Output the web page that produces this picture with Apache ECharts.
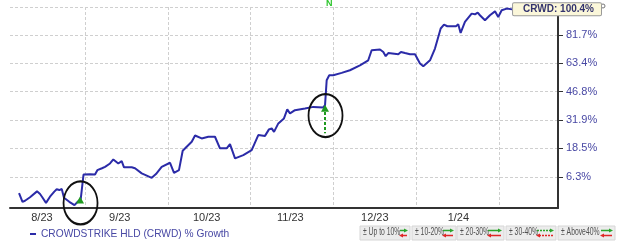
<!DOCTYPE html>
<html>
<head>
<meta charset="utf-8">
<script src="https://cdn.jsdelivr.net/npm/echarts@6/dist/echarts.min.js"></script>
<style>
html,body{margin:0;padding:0;background:#fff;}
#chart{width:620px;height:242px;}
</style>
</head>
<body>
<div id="chart"></div>
<script>
// months elapsed since 2023-08-01 (each calendar month = 1 unit, as on the reference axis)
const monthPos = [0.203,0.245,0.275,0.336,0.420,0.457,0.484,0.529,0.577,0.629,0.658,0.690,0.719,0.746,0.810,0.873,0.912,0.948,0.982,
  1.060,1.121,1.149,1.205,1.242,1.302,1.342,1.402,1.443,1.471,1.564,1.604,1.685,1.806,1.857,1.926,
  2.027,2.075,2.135,2.180,2.289,2.329,2.409,2.489,2.570,2.630,2.711,2.751,2.812,2.912,
  3.013,3.093,3.174,3.222,3.255,3.283,3.335,3.403,3.443,3.476,3.536,3.657,3.757,3.878,3.899,3.919,3.950,3.999,
  4.100,4.200,4.321,4.421,4.462,4.563,4.603,4.632,4.663,4.684,4.784,4.816,4.865,4.925,4.986,
  5.046,5.086,5.167,5.227,5.296,5.336,5.376,5.481,5.508,5.537,5.589,5.670,5.710,5.743,5.770,5.831,5.891,5.952,5.991,
  6.033,6.094,6.158];
// % growth of CRWD
const growth = [0.0,-3.2,-2.8,-1.5,0.7,-0.3,-1.5,-3.6,-1.3,0.6,1.5,1.2,1.6,-1.7,-3.2,-4.4,-3.2,-2.3,7.3,
  7.4,7.3,9.1,9.9,10.5,11.9,13.6,11.9,12.9,10.3,10.3,9.9,7.8,6.0,7.5,10.5,
  12.2,8.0,9.1,17.4,21.5,24.4,23.0,23.8,23.8,18.5,18.5,20.4,14.1,15.5,
  17.7,24.6,24.2,27.3,27.8,26.1,30.2,32.7,37.3,35.2,36.9,37.8,38.6,38.3,39.5,53.3,56.2,56.2,
  57.6,59.2,62.2,65.3,71.7,72.2,70.6,67.9,69.9,69.1,69.1,70.6,69.9,69.1,69.1,
  63.3,61.6,65.3,72.8,86.4,89.2,88.0,88.0,89.4,83.3,91.1,97.2,96.7,98.0,96.0,92.3,96.0,98.9,94.7,
  99.7,101.0,100.4];
const monthLabels = ['8/23','9/23','10/23','11/23','12/23','1/24'];
const monthLabelPos = [0.48,1.42,2.47,3.48,4.50,5.51];
const monthBounds = [1,2,3,4,5,6];
const yTickPct = [6.3,18.5,31.9,46.8,63.4,81.7,102.2];
const yLabelPct = [6.3,18.5,31.9,46.8,63.4,81.7];
const seriesName = 'CROWDSTRIKE HLD (CRWD) % Growth';
const ticker = 'CRWD';
// annotation marks: [monthPos, %growth]
const circleMarks = [[0.946,-3.6],[3.905,34.1]];
const arrowTips = [[0.940,-2.55],[3.899,37.9]];
const arrowStems = [[0.940,-4.0,-7.2],[3.899,35.9,25.5]];
const newsMark = [3.95, 102.2];
const rangeLabels = ['\u00b1 Up to 10%','\u00b1 10-20%','\u00b1 20-30%','\u00b1 30-40%','\u00b1 Above40%'];

const toF = p => 1 + p / 100;
const data = monthPos.map((m, i) => [m, toF(growth[i])]);
const last = growth[growth.length - 1];

const chart = echarts.init(document.getElementById('chart'), null, {renderer: 'canvas'});
const font = 'Liberation Sans, Arial, sans-serif';
const blueTxt = '#4848a4';

// decorative range boxes bottom-right
const boxGeom = [[360,50,7],[412,44,10],[457,47,13],[506,50,16],[558,57,11]];
const graphics = [];
boxGeom.forEach((g, i) => {
  const [x, w, aw] = g;
  graphics.push({type:'rect', x:x, y:226, shape:{width:w, height:14}, style:{fill:'#ececec', stroke:'#d6d6d6', lineWidth:1}, silent:true, z:10});
  graphics.push({type:'text', x:x+3, y:227.5, scaleX:0.68, style:{text:rangeLabels[i], font:'10px ' + font, fill:'#505050'}, silent:true, z:11});
  const ax = x + w - aw - 3;
  const dash = i === 3 ? [2,1] : null;
  graphics.push({type:'line', shape:{x1:ax, y1:230.5, x2:ax+aw-2, y2:230.5}, style:{stroke:'#2aa52a', lineWidth:1.5, lineDash:dash}, silent:true, z:12});
  graphics.push({type:'polygon', shape:{points:[[ax+aw-3,228.5],[ax+aw+1,230.5],[ax+aw-3,232.5]]}, style:{fill:'#2aa52a'}, silent:true, z:12});
  graphics.push({type:'line', shape:{x1:ax+2, y1:235.5, x2:ax+aw, y2:235.5}, style:{stroke:'#e02626', lineWidth:1.5, lineDash:dash}, silent:true, z:12});
  graphics.push({type:'polygon', shape:{points:[[ax+3,233.5],[ax-1,235.5],[ax+3,237.5]]}, style:{fill:'#e02626'}, silent:true, z:12});
});
graphics.push({type:'circle', shape:{cx:603, cy:6, r:2}, style:{fill:'#fff', stroke:'#777', lineWidth:1}, silent:true});

const option = {
  animation: false,
  textStyle: {fontFamily: font},
  grid: {left: 10, right: 62, top: 7, bottom: 34, containLabel: false},
  legend: {
    data: [seriesName], left: 25, top: 224, icon: 'rect', itemWidth: 6, itemHeight: 2, itemGap: 5,
    textStyle: {color: blueTxt, fontSize: 10.2, fontFamily: font}, selectedMode: false
  },
  xAxis: {
    type: 'value', min: 0.094, max: 6.713,
    axisLine: {show: true, lineStyle: {color: '#333', width: 2}},
    axisTick: {show: false, customValues: monthBounds},
    splitLine: {show: true, lineStyle: {color: '#cfcfcf', type: [3,2], width: 1}},
    axisLabel: {
      customValues: monthLabelPos, color: '#333', fontSize: 11, margin: 4,
      formatter: v => {
        let best = 0;
        monthLabelPos.forEach((p, i) => { if (Math.abs(p - v) < Math.abs(monthLabelPos[best] - v)) best = i; });
        return monthLabels[best];
      }
    }
  },
  yAxis: {
    type: 'log', logBase: 10, position: 'right', min: 0.9456, max: toF(102.2),
    axisLine: {show: true, lineStyle: {color: '#333', width: 2}},
    axisTick: {show: true, inside: false, length: 5, lineStyle: {color: '#333'}, customValues: yTickPct.map(toF)},
    splitLine: {show: true, lineStyle: {color: '#cfcfcf', type: [3,2], width: 1}},
    axisLabel: {
      customValues: yLabelPct.map(toF), color: blueTxt, fontSize: 11, margin: 8,
      formatter: v => ((v - 1) * 100).toFixed(1) + '%'
    }
  },
  graphic: graphics,
  series: [{
    name: seriesName, type: 'line', data: data, showSymbol: false, symbol: 'none', clip: false,
    lineStyle: {color: '#2b2ba8', width: 2}, itemStyle: {color: '#2b2ba8'},
    endLabel: {
      show: true, distance: 1, formatter: ticker + ': ' + last.toFixed(1) + '%',
      backgroundColor: '#fbf7da', borderColor: '#9a9a9a', borderWidth: 1, borderRadius: 1,
      padding: [1, 7, 1, 10], fontSize: 10, fontWeight: 'bold', color: '#33336e', fontFamily: font
    },
    markPoint: {
      silent: true, animation: false,
      data: [
        ...circleMarks.map(c => ({coord: [c[0], toF(c[1])], symbol: 'circle', symbolSize: [34, 43],
          itemStyle: {color: 'rgba(0,0,0,0)', borderColor: '#111', borderWidth: 2}, label: {show: false}})),
        ...arrowTips.map(c => ({coord: [c[0], toF(c[1])], symbol: 'triangle', symbolSize: [8, 7],
          itemStyle: {color: '#1f9a1f'}, label: {show: false}})),
        {coord: [newsMark[0], toF(newsMark[1])], symbol: 'circle', symbolSize: 0,
          label: {show: true, position: 'inside', offset: [0, -3], formatter: 'N', color: '#2cc52c', fontSize: 9, fontWeight: 'bold'}}
      ]
    },
    markLine: {
      silent: true, animation: false, symbol: 'none',
      lineStyle: {color: '#1f9a1f', type: [3, 2], width: 2},
      label: {show: false},
      data: arrowStems.map(s => [{coord: [s[0], toF(s[1])]}, {coord: [s[0], toF(s[2])]}])
    }
  }]
};
chart.setOption(option);
</script>
</body>
</html>
